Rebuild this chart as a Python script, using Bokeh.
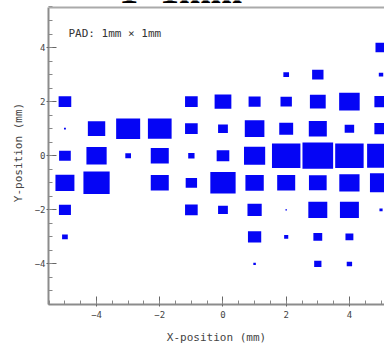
from bokeh.plotting import figure
from bokeh.models import FixedTicker, Label, Range1d, ColumnDataSource, Span
from bokeh.embed import file_html
from bokeh.resources import INLINE

# column positions (mm) and row positions (mm)
x_positions = [-5, -4, -3, -2, -1, 0, 1, 2, 3, 4, 5]
row_positions = [4, 3, 2, 1, 0, -1, -2, -3, -4]

# relative box size (fraction of the 1 mm pad) for each row, x = -5 .. 5
row_y4 = [0, 0, 0, 0, 0, 0, 0, 0, 0, 0, 0.35]
row_y3 = [0, 0, 0, 0, 0, 0, 0, 0.18, 0.36, 0, 0.14]
row_y2 = [0.40, 0, 0, 0, 0.40, 0.53, 0.38, 0.36, 0.50, 0.65, 0.42]
row_y1 = [0.06, 0.55, 0.76, 0.75, 0.40, 0.31, 0.62, 0.44, 0.57, 0.30, 0.42]
row_y0 = [0.37, 0.64, 0.18, 0.57, 0.20, 0.40, 0.67, 0.90, 0.97, 0.90, 0.88]
row_ym1 = [0.60, 0.83, 0, 0.57, 0.36, 0.80, 0.58, 0.57, 0.56, 0.64, 0.70]
row_ym2 = [0.38, 0, 0, 0, 0.40, 0.31, 0.45, 0.05, 0.60, 0.60, 0.10]
row_ym3 = [0.18, 0, 0, 0, 0, 0, 0.42, 0.13, 0.28, 0.25, 0]
row_ym4 = [0, 0, 0, 0, 0, 0, 0.08, 0, 0.23, 0.17, 0]
rows = [row_y4, row_y3, row_y2, row_y1, row_y0, row_ym1, row_ym2, row_ym3, row_ym4]

major_ticks = [-4, -2, 0, 2, 4]
minor_ticks = [v * 0.5 for v in range(-11, 12)]
frame_top = 5.48

title_text = "1×1mm"
pad_text = "PAD: 1mm × 1mm"
x_title = "X-position (mm)"
y_title = "Y-position (mm)"

bx, by, bs = [], [], []
for yv, row in zip(row_positions, rows):
    for xv, f in zip(x_positions, row):
        if f > 0:
            bx.append(xv)
            by.append(yv)
            bs.append(f)
src = ColumnDataSource(dict(x=bx, y=by, s=bs))

p = figure(width=384, height=346,
           x_range=Range1d(-5.52, 5.11), y_range=Range1d(-5.5, 5.739),
           output_backend="svg", toolbar_location=None,
           min_border_left=48, min_border_right=0,
           min_border_top=0, min_border_bottom=42,
           background_fill_color="white", border_fill_color="white",
           outline_line_color=None)
p.xgrid.visible = False
p.ygrid.visible = False

p.rect(x="x", y="y", width="s", height="s", source=src,
       fill_color="#0505f5", line_color=None)

for ax in (p.xaxis[0], p.yaxis[0]):
    ax.ticker = FixedTicker(ticks=major_ticks, minor_ticks=minor_ticks)
    ax.axis_line_color = "#8c8c8c"
    ax.axis_line_width = 2
    ax.major_tick_line_color = "#666666"
    ax.minor_tick_line_color = "#888888"
    ax.major_tick_in = 8
    ax.major_tick_out = 2
    ax.minor_tick_in = 4
    ax.minor_tick_out = 0
    ax.major_label_text_font = "DejaVu Sans Mono"
    ax.major_label_text_font_size = "9px"
    ax.major_label_text_color = "#444444"
    ax.axis_label_text_font = "DejaVu Sans Mono"
    ax.axis_label_text_font_size = "11px"
    ax.axis_label_text_font_style = "normal"
    ax.axis_label_text_color = "#444444"

p.xaxis[0].axis_label = x_title
p.xaxis[0].major_label_standoff = 4
p.xaxis[0].axis_label_standoff = 10
p.yaxis[0].axis_label = y_title
p.yaxis[0].major_label_standoff = 1
p.yaxis[0].axis_label_standoff = 7
p.yaxis[0].bounds = (-5.5, frame_top)

p.add_layout(Span(location=frame_top, dimension="width",
                  line_color="#aaaaaa", line_width=2))

p.add_layout(Label(x=-4.89, y=4.52, text=pad_text, text_font="DejaVu Sans Mono",
                   text_font_size="11px", text_color="#333333",
                   text_baseline="middle", text_align="left"))
p.add_layout(Label(x=-3.28, y=6.12, text=title_text, text_font="Liberation Serif",
                   text_font_size="38px", text_font_style="bold", text_color="black",
                   text_baseline="alphabetic", text_align="left"))

open("out.html", "w").write(file_html(p, INLINE))
